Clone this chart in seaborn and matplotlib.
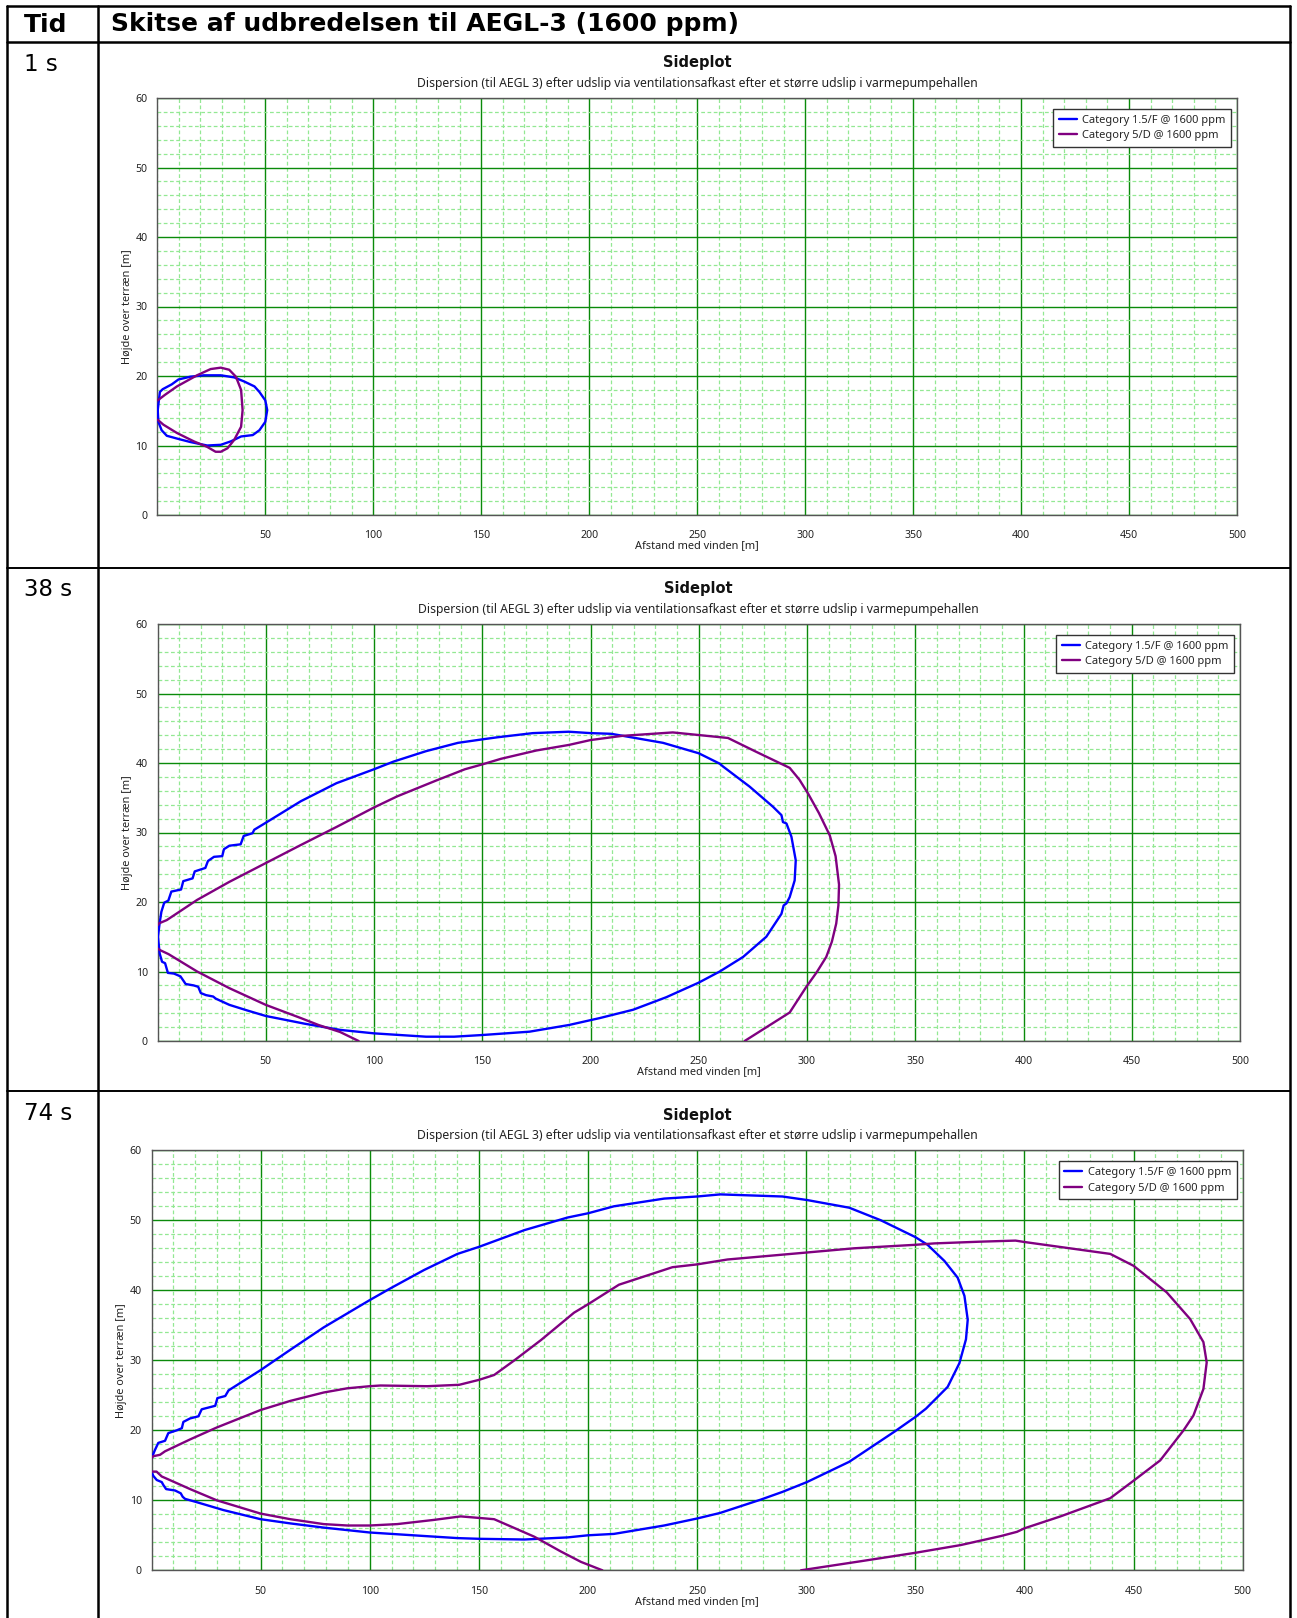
import numpy as np
import pandas as pd
import matplotlib
matplotlib.use("Agg")
import matplotlib.pyplot as plt
from matplotlib.lines import Line2D
from matplotlib.ticker import FixedLocator, MultipleLocator
import seaborn as sns

# ---------------- texts ----------------
HEADER_LEFT = "Tid"
HEADER_RIGHT = "Skitse af udbredelsen til AEGL-3 (1600 ppm)"
TIMES = ["1 s", "38 s", "74 s"]
SERIES = ["Category 1.5/F @ 1600 ppm", "Category 5/D @ 1600 ppm"]
TITLE = "Sideplot"
SUBTITLE = ("Dispersion (til AEGL 3) efter udslip via ventilationsafkast "
            "efter et større udslip i varmepumpehallen")
XLABEL = "Afstand med vinden [m]"
YLABEL = "Højde over terræn [m]"
X_TICKS = [50, 100, 150, 200, 250, 300, 350, 400, 450, 500]
Y_TICKS = [0, 10, 20, 30, 40, 50, 60]

# ---------------- data: 1 s ----------------
t1_blue_x = [0.2, 1.2, 2.5, 6.7, 9.8, 15.3, 21.6, 29.4, 35.6, 40.3, 45.0, 47.3, 50.0, 50.9,
             50.0, 47.3, 44.2, 38.8, 34.1, 29.4, 23.1, 15.3, 9.1, 4.4, 2.0, 0.5, 0.2]
t1_blue_y = [15.1, 17.7, 18.1, 18.8, 19.5, 19.9, 20.1, 20.1, 19.8, 19.2, 18.5, 17.7, 16.5, 15.1,
             13.4, 12.2, 11.5, 11.3, 10.6, 10.1, 10.0, 10.5, 11.0, 11.4, 12.2, 13.4, 15.1]
t1_purple_x = [0.2, 3.6, 9.1, 18.4, 24.7, 29.4, 33.3, 36.4, 38.8, 39.5, 38.8, 35.6, 32.5,
               29.4, 27.0, 23.1, 16.9, 9.1, 2.8, 0.2]
t1_purple_y = [16.5, 17.3, 18.5, 20.1, 21.0, 21.2, 20.9, 19.9, 18.0, 15.1, 12.7, 10.8, 9.6,
               9.1, 9.1, 9.8, 10.6, 11.8, 13.0, 13.7]

# ---------------- data: 38 s ----------------
t38_blue_x = [0.2, 1.0, 1.8, 3.1, 5.0, 6.4, 10.9, 11.9, 16.2, 17.2, 22.1, 23.3, 26.1, 29.9,
              30.7, 33.2, 38.4, 39.8, 43.9, 44.7, 50, 66.2, 82.7, 100, 109, 124, 138.8, 150,
              157, 173.4, 190, 200, 209.6, 233.5, 250, 259.7, 261.2, 273.5, 284.3, 288.2,
              288.9, 290.5, 292.8, 294.8, 294.3, 292, 290.5, 289.2, 288.2, 281.2, 270.5,
              259.7, 250, 235, 219.7, 204.3, 200, 190, 171.8, 150, 137, 124, 100, 84.3,
              67.8, 50, 41.4, 33.2, 26.9, 25.7, 22.4, 20, 18.8, 16.7, 13, 11.7, 10.6, 7.6,
              4.8, 3.5, 2.1, 1.0, 0.2]
t38_blue_y = [15.0, 17.0, 18.6, 19.9, 20.2, 21.5, 21.8, 23.0, 23.4, 24.4, 24.9, 25.9, 26.5,
              26.6, 27.6, 28.1, 28.3, 29.5, 29.9, 30.4, 31.4, 34.5, 37.1, 39.1, 40.2, 41.7,
              42.9, 43.4, 43.7, 44.3, 44.5, 44.3, 44.2, 42.9, 41.4, 39.9, 39.5, 36.6, 33.7,
              32.5, 31.5, 31.3, 29.4, 26.0, 23.1, 20.7, 19.8, 19.5, 18.3, 15.0, 12.1, 10.0,
              8.4, 6.3, 4.5, 3.3, 3.0, 2.3, 1.34, 0.86, 0.62, 0.62, 1.1, 1.6, 2.5, 3.6, 4.4,
              5.2, 6.1, 6.4, 6.6, 6.9, 7.8, 8.0, 8.2, 8.8, 9.3, 9.7, 9.8, 11.2, 11.4, 12.6,
              15.0]
t38_purple_upper_x = [0.2, 0.5, 4.3, 18.3, 33.2, 50, 66.2, 82.7, 100, 110.7, 128.9, 142, 150,
                      158.6, 175, 190, 200, 214.5, 238, 263.5, 276.6, 292, 296.5, 300.5,
                      305.5, 310.5, 313.2, 314.8, 314.5, 313.5, 311.5, 308.9, 304.5, 299.7,
                      292, 271.2]
t38_purple_upper_y = [16.7, 16.9, 17.4, 20.3, 22.9, 25.6, 28.2, 30.8, 33.6, 35.2, 37.5, 39.1,
                      39.8, 40.6, 41.8, 42.6, 43.3, 43.9, 44.4, 43.6, 41.6, 39.3, 37.6, 35.6,
                      32.8, 29.6, 26.6, 22.5, 19.5, 16.9, 14.3, 12.1, 9.9, 7.8, 4.1, 0.0]
t38_purple_lower_x = [0.2, 1.0, 5.1, 18.3, 33.2, 50, 66.2, 74.4, 84.3, 92.9]
t38_purple_lower_y = [13.3, 13.1, 12.5, 10.0, 7.6, 5.2, 3.3, 2.3, 1.3, 0.0]

# ---------------- data: 74 s ----------------
t74_blue_x = [0.0, 1.6, 3.1, 6.2, 7.7, 11.6, 13.9, 14.6, 17.7, 21.5, 23.0, 29.2, 30.2, 33.8,
              35.3, 50, 63.6, 78.9, 100, 109.6, 124.9, 140.2, 150, 170.9, 190.7, 200, 211.9,
              234.9, 250, 260.6, 289.1, 300.3, 319.7, 334.2, 350, 355.6, 363.3, 369.4, 372.5,
              374, 373.2, 370.2, 364.8, 354.9, 350, 340.4, 319.7, 300.3, 289.1, 279.2, 260.6,
              250, 234.9, 211.9, 200, 190.7, 170.9, 150, 140.2, 124.9, 100, 78.9, 63.6, 50,
              33, 20, 15.4, 14.3, 13.4, 10.8, 6.7, 5.4, 4.7, 2.4, 0.8, 0.0]
t74_blue_y = [16.0, 17.2, 18.2, 18.5, 19.6, 20.0, 20.3, 21.2, 21.7, 22.0, 23.0, 23.5, 24.6,
              24.9, 25.7, 28.6, 31.5, 34.7, 38.6, 40.3, 42.9, 45.2, 46.2, 48.6, 50.4, 51.0,
              52.0, 53.1, 53.4, 53.7, 53.4, 52.9, 51.8, 50.0, 47.6, 46.5, 44.2, 41.8, 39.2,
              35.8, 33.0, 29.6, 26.2, 23.1, 21.9, 19.8, 15.5, 12.6, 11.2, 10.1, 8.2, 7.4, 6.4,
              5.2, 5.0, 4.7, 4.4, 4.5, 4.6, 4.9, 5.4, 6.1, 6.7, 7.3, 8.6, 9.8, 10.2, 10.5,
              11.0, 11.4, 11.6, 12.2, 12.6, 12.9, 13.5, 14.1]
t74_purple_upper_x = [0.0, 0.8, 3.9, 6.2, 17.7, 29.9, 50, 63.6, 78.9, 89.7, 100, 104.9, 126.4,
                      141, 150, 157, 166.3, 178.5, 193.6, 200, 214.2, 238.7, 250, 263.9,
                      300.3, 321.9, 350, 358.7, 380, 395.9, 400, 439.3, 450, 465.2, 475.9,
                      482, 483.5, 482, 477.4, 472.9, 462.2, 450, 439.3, 416.5, 400, 396.6,
                      389.3, 370.7, 350, 325.1, 297.6]
t74_purple_upper_y = [16.0, 16.3, 16.5, 17.0, 18.7, 20.4, 22.9, 24.2, 25.4, 26.0, 26.3, 26.4,
                      26.3, 26.5, 27.2, 27.9, 30.0, 32.9, 36.8, 38.0, 40.8, 43.3, 43.7, 44.4,
                      45.4, 46.0, 46.5, 46.7, 46.95, 47.1, 46.9, 45.2, 43.5, 39.7, 35.9, 32.6,
                      29.7, 25.9, 22.1, 20.0, 15.7, 12.8, 10.3, 7.7, 6.0, 5.5, 4.9, 3.6, 2.5,
                      1.3, 0.0]
t74_purple_lower_x = [0.0, 2.3, 4.7, 6.9, 17.7, 29.9, 50, 63.6, 78.9, 89.7, 100, 112.6, 129.4,
                      141.7, 157, 175.4, 187.5, 196.8, 206.6]
t74_purple_lower_y = [14.1, 14.1, 13.4, 13.1, 11.6, 10.0, 8.1, 7.3, 6.6, 6.4, 6.4, 6.6, 7.2,
                      7.7, 7.3, 4.8, 2.7, 1.2, 0.0]

PANELS = [
    [(SERIES[0], t1_blue_x, t1_blue_y), (SERIES[1], t1_purple_x, t1_purple_y)],
    [(SERIES[0], t38_blue_x, t38_blue_y), (SERIES[1], t38_purple_upper_x, t38_purple_upper_y),
     (SERIES[1], t38_purple_lower_x, t38_purple_lower_y)],
    [(SERIES[0], t74_blue_x, t74_blue_y), (SERIES[1], t74_purple_upper_x, t74_purple_upper_y),
     (SERIES[1], t74_purple_lower_x, t74_purple_lower_y)],
]

# ---------------- style ----------------
sns.set_style("white")
CHART_FONT = ["Noto Sans", "DejaVu Sans"]
TABLE_FONT = ["DejaVu Sans"]
plt.rcParams["font.family"] = CHART_FONT
PALETTE = {SERIES[0]: "#0000ff", SERIES[1]: "#800080"}

W, H = 1297, 1618
fig = plt.figure(figsize=(W / 100, H / 100), dpi=100)
fig.patch.set_facecolor("white")


def fx(x):
    return x / W


def fy(y):
    return 1 - y / H


# axes boxes in pixels: left, right, top, bottom
BOXES = [(157.3, 1237.0, 98.0, 515.0),
         (157.5, 1240.0, 624.0, 1041.0),
         (151.5, 1242.7, 1150.3, 1570.3)]
ROW_TOPS = [42.0, 567.5, 1091.0]

for i, (box, segs) in enumerate(zip(BOXES, PANELS)):
    l, r, t, b = box
    ax = fig.add_axes([fx(l), fy(b), (r - l) / W, (b - t) / H])
    rows = []
    for k, (name, xs, ys) in enumerate(segs):
        for j, (xv, yv) in enumerate(zip(xs, ys)):
            rows.append({"x": xv, "y": yv, "series": name, "seg": k, "order": j})
    df = pd.DataFrame(rows)
    sns.lineplot(data=df, x="x", y="y", hue="series", units="seg", estimator=None,
                 sort=False, palette=PALETTE, linewidth=1.7, legend=False, ax=ax, zorder=5)
    ax.set_xlim(0, 500)
    ax.set_ylim(0, 60)
    ax.xaxis.set_major_locator(FixedLocator(X_TICKS))
    ax.xaxis.set_minor_locator(MultipleLocator(10))
    ax.yaxis.set_major_locator(FixedLocator(Y_TICKS))
    ax.yaxis.set_minor_locator(MultipleLocator(2))
    ax.set_axisbelow(True)
    ax.grid(which="minor", color="#93e893", linestyle=(0, (3, 2)), linewidth=0.9)
    ax.grid(which="major", color="#0a8a0a", linestyle="-", linewidth=1.0)
    ax.tick_params(which="both", direction="out", color="#444444", width=1.0,
                   labelsize=7.6, labelcolor="#222222")
    ax.tick_params(which="major", length=5, pad=6)
    ax.tick_params(which="minor", length=4)
    ax.tick_params(axis="y", which="major", pad=2)
    for sp in ax.spines.values():
        sp.set_color("#555555")
        sp.set_linewidth(1.0)
        sp.set_visible(True)
    ax.set_xlabel("")
    ax.set_ylabel("")

    # legend
    handles = [Line2D([], [], color=PALETTE[s], linewidth=1.7) for s in SERIES]
    ax_w, ax_h = r - l, b - t
    leg = ax.legend(handles, SERIES, loc="upper right",
                    bbox_to_anchor=(1 - 6 / ax_w, 1 - 11 / ax_h), borderaxespad=0,
                    fontsize=8, frameon=True, fancybox=False, framealpha=1,
                    edgecolor="#333333", handlelength=1.6, handletextpad=0.5,
                    borderpad=0.5, labelspacing=0.42)
    leg.get_frame().set_linewidth(1.0)
    leg.set_zorder(10)

    cx = (l + r) / 2
    fig.text(fx(cx), fy(t - 35), TITLE, ha="center", va="center", fontsize=10.5,
             fontweight="bold", family=TABLE_FONT, color="#111111")
    fig.text(fx(cx), fy(t - 15), SUBTITLE, ha="center", va="center", fontsize=8.8,
             color="#222222")
    fig.text(fx(cx), fy(b + 31), XLABEL, ha="center", va="center", fontsize=7.9,
             color="#222222")
    fig.text(fx(l - 30), fy((t + b) / 2), YLABEL, ha="center", va="center", rotation=90,
             fontsize=7.9, color="#222222")

    # time label
    fig.text(fx(24), fy(ROW_TOPS[i] + 22.5), TIMES[i], ha="left", va="center",
             fontsize=16.5, family=TABLE_FONT, color="black")

# header
fig.text(fx(24), fy(24.5), HEADER_LEFT, ha="left", va="center", fontsize=18,
         fontweight="bold", family=TABLE_FONT, color="black")
fig.text(fx(111), fy(24.5), HEADER_RIGHT, ha="left", va="center", fontsize=18,
         fontweight="bold", family=TABLE_FONT, color="black")

# table lines
LW = 1.8
def hline(y, x0=7, x1=1290, lw=LW):
    fig.add_artist(Line2D([fx(x0), fx(x1)], [fy(y), fy(y)], color="black", linewidth=lw))


def vline(x, y0=6, y1=H, lw=LW):
    fig.add_artist(Line2D([fx(x), fx(x)], [fy(y0), fy(y1)], color="black", linewidth=lw))


hline(6)
hline(42)
hline(567.5, lw=1.4)
hline(1091, lw=1.4)
vline(7)
vline(98)
vline(1290)

fig.savefig("out.png", dpi=100, facecolor="white")
